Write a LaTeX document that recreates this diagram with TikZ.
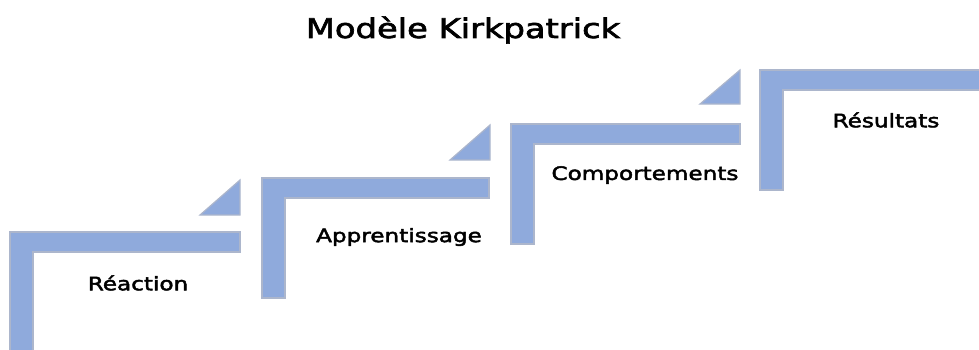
\documentclass[tikz,border=0pt]{standalone}
\usepackage{fontspec}
\setmainfont{DejaVu Sans}[FakeStretch=1.25,FakeBold=2.5]
\usepackage{xcolor}
\usetikzlibrary{positioning}
\definecolor{stairblue}{RGB}{143,170,220}
\definecolor{stairedge}{RGB}{172,182,204}

\begin{document}
\begin{tikzpicture}[x=1pt,y=1pt,semithick]
			\tikzstyle{stair}=[fill=stairblue,draw=stairedge,line width=1.2pt,line join=miter]
			\tikzstyle{label}=[font=\fontsize{18.5}{21}\selectfont,text=black,inner sep=0pt]
			\path[use as bounding box,clip] (0,0) rectangle (979,349);
			% les marches
			\filldraw[stair] (10,117) -- ++(230,0) -- ++(0,-20) -- ++(-207,0) -- ++(0,-120) -- ++(-23,0) -- cycle;
			\filldraw[stair] (200,134) -- ++(40,0) -- ++(0,35) -- cycle;
			\filldraw[stair] (262,171) -- ++(227,0) -- ++(0,-20) -- ++(-204,0) -- ++(0,-100) -- ++(-23,0) -- cycle;
			\filldraw[stair] (450,189) -- ++(40,0) -- ++(0,35) -- cycle;
			\filldraw[stair] (511,225) -- ++(229,0) -- ++(0,-20) -- ++(-206,0) -- ++(0,-100) -- ++(-23,0) -- cycle;
			\filldraw[stair] (700,245) -- ++(40,0) -- ++(0,34) -- cycle;
			\filldraw[stair] (760,279) -- ++(240,0) -- ++(0,-20) -- ++(-217,0) -- ++(0,-100) -- ++(-23,0) -- cycle;
			% textes
			\node[font=\fontsize{27}{30}\selectfont,inner sep=0pt] (title) at (463,319) {Modèle Kirkpatrick};
			\node[label] (reaction) at (138,66) {Réaction};
			\node[label] (apprentissage) at (399,112) {Apprentissage};
			\node[label] (comportements) at (645,174) {Comportements};
			\node[label] (resultats) at (886,229) {Résultats};
		\end{tikzpicture}
\end{document}
